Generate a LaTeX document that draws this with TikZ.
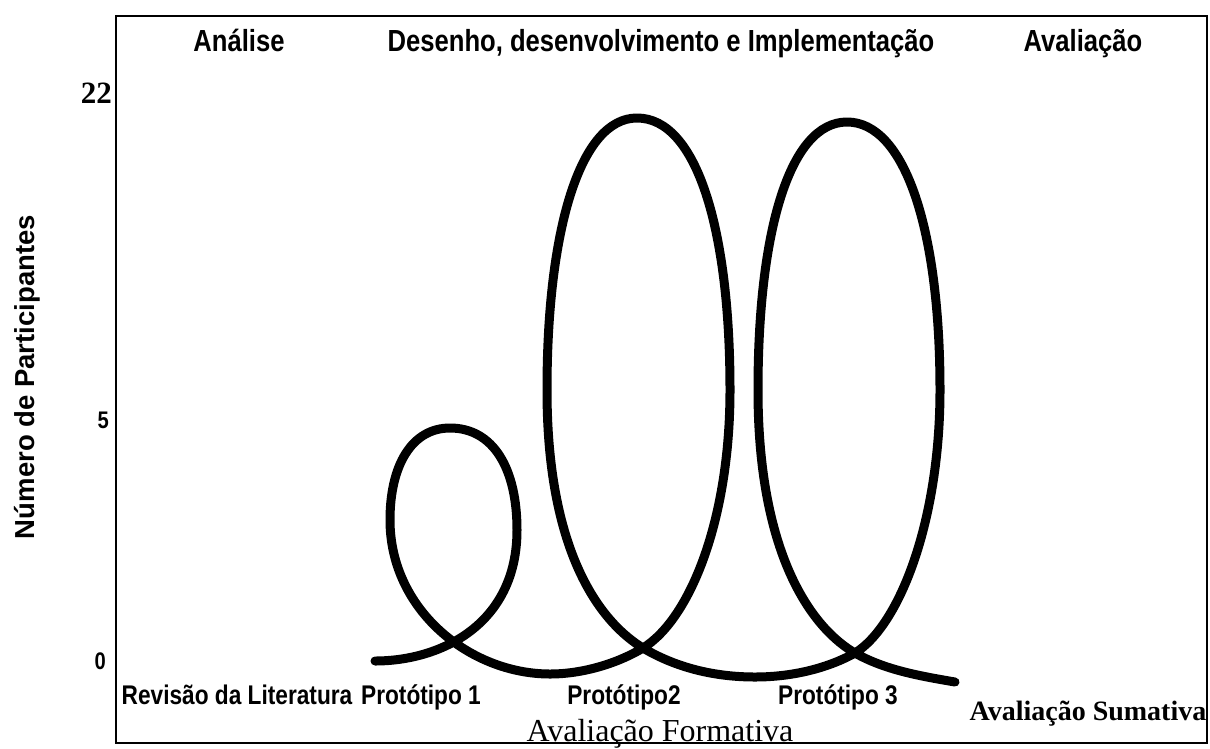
\documentclass[tikz,border=0pt]{standalone}
\usepackage{fontspec}
\setmainfont{Liberation Serif}
\newfontfamily\narrowsans[FakeStretch=0.84]{Liberation Sans}
\newfontfamily\plainsans{Liberation Sans}
\usepackage{tikz}
\usetikzlibrary{positioning}
\tikzset{
    phase/.style = {font=\narrowsans\bfseries\fontsize{30.5}{32}\selectfont, inner sep=0pt, anchor=base},
    stage/.style = {font=\narrowsans\bfseries\fontsize{27}{29}\selectfont, inner sep=0pt, anchor=base},
    ticklabel/.style = {inner sep=0pt, anchor=base east},
    loopline/.style = {line width=9pt, line cap=round, line join=round},
    frame/.style = {line width=2.2pt}
}

\begin{document}
\begin{tikzpicture}[x=1pt, y=-1pt]
\useasboundingbox (0,0) rectangle (1210,748);

% moldura
\draw [frame] (116,16) rectangle (1207,743);

% eixo vertical
\node (eixo) [font=\plainsans\bfseries\fontsize{27.5}{30}\selectfont, rotate=90] at (27,377) {Número de Participantes};
\node (t22) [ticklabel, font=\bfseries\fontsize{31}{33}\selectfont] at (112,103) {22};
\node (t5) [ticklabel, font=\narrowsans\bfseries\fontsize{24}{26}\selectfont] at (109,428) {5};
\node (t0) [ticklabel, font=\narrowsans\bfseries\fontsize{24}{26}\selectfont] at (106,669) {0};

% fases
\node (analise) [phase] at (239,51) {Análise};
\node (desenho) [phase] at (661,51) {Desenho, desenvolvimento e Implementação};
\node (avaliacao) [phase] at (1083,51) {Avaliação};

% etapas
\node (revisao) [stage] at (237,704) {Revisão da Literatura};
\node (prot1) [stage] at (421,704) {Protótipo 1};
\node (prot2) [stage] at (624,704) {Protótipo2};
\node (prot3) [stage] at (838,704) {Protótipo 3};
\node (sumativa) [inner sep=0pt, anchor=base, font=\bfseries\fontsize{28}{30}\selectfont] at (1088,720) {Avaliação Sumativa};
\node (formativa) [inner sep=0pt, anchor=base, font=\fontsize{32}{34}\selectfont] at (660,741) {Avaliação Formativa};

% espiral com tres voltas
\draw [loopline] (375,661)
    .. controls (440,661) and (517,625) .. (517,530)
    .. controls (517,468) and (493,428) .. (450,428)
    .. controls (412,428) and (390,465) .. (390,520)
    .. controls (390,610) and (470,674) .. (550,674)
    .. controls (585,674) and (620,662) .. (643,648)
    .. controls (690,619) and (730,520) .. (730,390)
    .. controls (730,230) and (697,118) .. (637,118)
    .. controls (580,118) and (547,230) .. (547,390)
    .. controls (547,560) and (605,625) .. (643,648)
    .. controls (680,670) and (720,677) .. (755,677)
    .. controls (795,677) and (830,667) .. (855,653)
    .. controls (900,625) and (940,520) .. (940,390)
    .. controls (940,230) and (905,122) .. (847,122)
    .. controls (790,122) and (758,230) .. (758,390)
    .. controls (758,560) and (815,630) .. (855,653)
    .. controls (885,670) and (920,676) .. (955,682);
\end{tikzpicture}
\end{document}
